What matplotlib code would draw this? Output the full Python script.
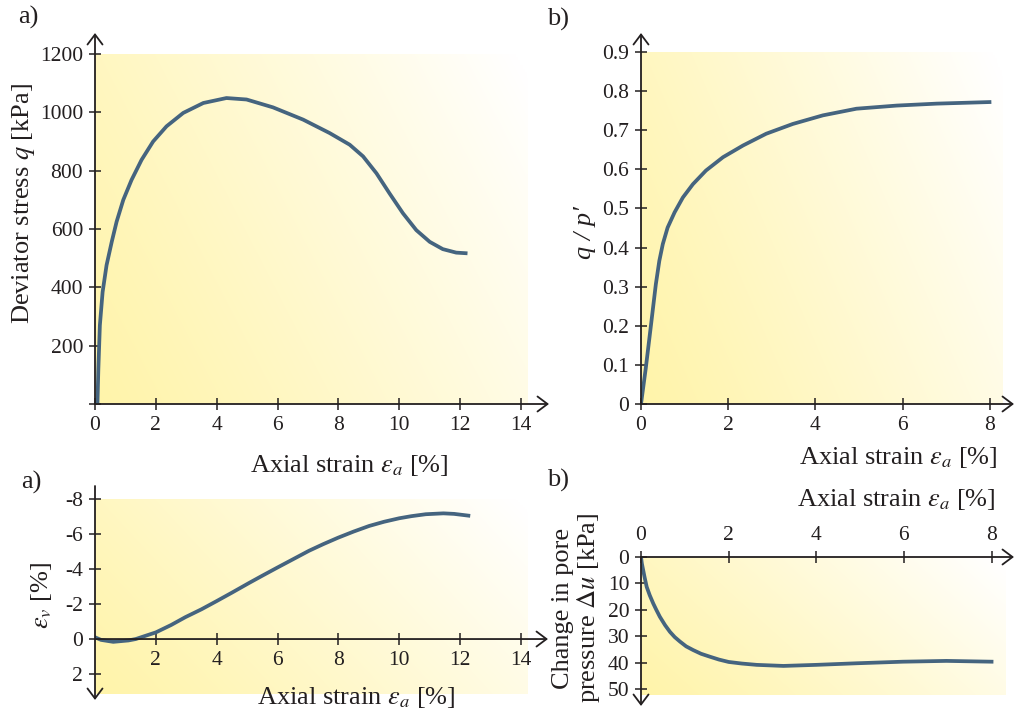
import numpy as np
import matplotlib
matplotlib.use("Agg")
import matplotlib.pyplot as plt

plt.rcParams['font.family'] = ['Liberation Serif', 'DejaVu Serif']
plt.rcParams['mathtext.fontset'] = 'stix'
plt.rcParams['axes.unicode_minus'] = False

# ---- data ----
# a) deviator stress vs axial strain
ea_q = [0.08, 0.11, 0.16, 0.25, 0.38, 0.55, 0.71, 0.93, 1.2, 1.53, 1.91, 2.35,
        2.9, 3.56, 4.32, 4.98, 5.85, 6.84, 7.71, 8.37, 8.81, 9.25, 9.68, 10.12,
        10.56, 11.0, 11.43, 11.87, 12.18]
q = [0, 120, 270, 384, 476, 556, 625, 700, 768, 837, 900, 952,
     998, 1032, 1049, 1044, 1017, 975, 929, 889, 849, 791, 722, 654,
     596, 556, 531, 519, 517]

# b) stress ratio vs axial strain
ea_r = [0, 0.11, 0.23, 0.34, 0.42, 0.5, 0.61, 0.77, 0.96, 1.19, 1.49, 1.88,
        2.34, 2.87, 3.48, 4.17, 4.94, 5.86, 6.78, 7.99]
ratio = [0, 0.092, 0.203, 0.306, 0.366, 0.409, 0.451, 0.49, 0.528, 0.562,
         0.597, 0.631, 0.661, 0.691, 0.716, 0.738, 0.755, 0.763, 0.768, 0.772]

# a) volumetric strain vs axial strain
ea_v = [0, 0.2, 0.6, 1.1, 1.34, 1.6, 2.0, 2.5, 2.97, 3.5, 3.99, 4.5, 5.06, 5.5,
        5.99, 6.5, 7.03, 7.5, 7.99, 8.5, 9.01, 9.5, 10.0, 10.4, 10.87, 11.45,
        11.8, 12.27]
ev = [-0.1, 0.05, 0.16, 0.08, 0.0, -0.15, -0.38, -0.8, -1.25, -1.7, -2.16,
      -2.65, -3.2, -3.62, -4.08, -4.55, -5.04, -5.42, -5.79, -6.14, -6.46,
      -6.7, -6.9, -7.02, -7.13, -7.18, -7.15, -7.05]

# b) pore pressure change vs axial strain
ea_u = [0, 0.02, 0.05, 0.08, 0.13, 0.2, 0.28, 0.35, 0.43, 0.55, 0.66, 0.77,
        0.89, 1.03, 1.19, 1.37, 1.57, 1.78, 2.0, 2.3, 2.64, 3.25, 4.0, 4.92,
        5.98, 6.97, 8.0]
du = [0, 2.5, 5, 7.5, 11.3, 14.5, 17.6, 20, 22.6, 25.8, 28.3, 30.3,
      32, 33.8, 35.2, 36.6, 37.7, 38.8, 39.7, 40.3, 40.8, 41.2, 40.8, 40.2,
      39.6, 39.3, 39.6]

q_ticks = [0, 200, 400, 600, 800, 1000, 1200]
q_labels = ['', '200', '400', '600', '800', '1000', '1200']
r_ticks = [0, 0.1, 0.2, 0.3, 0.4, 0.5, 0.6, 0.7, 0.8, 0.9]
r_labels = ['0', '0.1', '0.2', '0.3', '0.4', '0.5', '0.6', '0.7', '0.8', '0.9']
v_ticks = [-8, -6, -4, -2, 0, 2]
u_ticks = [0, 10, 20, 30, 40, 50]
x14_ticks = [0, 2, 4, 6, 8, 10, 12, 14]
x8_ticks = [0, 2, 4, 6, 8]

W, H = 1015, 717
LINE = '#45647f'
INK = '#231f20'
XLAB = r'Axial strain $\varepsilon_a$ [%]'


def box(l, t, r, b):
    # pixel box -> figure fraction rect
    return [l / W, 1 - b / H, (r - l) / W, (b - t) / H]


def fpos(x, y):
    return x / W, 1 - y / H


def shade(ax):
    n = 200
    X, Y = np.meshgrid(np.linspace(0, 1, n), np.linspace(0, 1, n))
    d = np.clip(0.72 * X + 0.3 * Y, 0, 1) ** 1.1
    d = d[..., None]
    yellow = np.array([255, 244, 170]) / 255
    img = yellow * (1 - d) + np.ones(3) * d
    ax.imshow(img, extent=[0, 1, 0, 1], transform=ax.transAxes, origin='lower',
              aspect='auto', zorder=0, interpolation='bilinear')


def arrow(ax, start, end, coords='axes fraction'):
    ax.annotate('', xy=end, xytext=start, xycoords=coords, textcoords=coords,
                annotation_clip=False,
                arrowprops=dict(arrowstyle='->, head_length=0.6, head_width=0.45',
                                mutation_scale=12, lw=1.3, color=INK,
                                shrinkA=0, shrinkB=0))


def style(ax):
    for s in ax.spines.values():
        s.set_visible(False)
    ax.tick_params(direction='inout', length=9, width=1.1, colors=INK,
                   labelsize=15.5, pad=4)


fig = plt.figure(figsize=(W / 100, H / 100), dpi=100)

# ---- a) top ----
ax1 = fig.add_axes(box(95, 54, 528, 404))
shade(ax1)
ax1.plot(ea_q, q, color=LINE, lw=2.7, zorder=3, solid_joinstyle='round')
ax1.set_xlim(0, 14.23)
ax1.set_ylim(0, 1200)
style(ax1)
ax1.set_xticks(x14_ticks)
ax1.set_yticks(q_ticks)
ax1.set_yticklabels(q_labels)
arrow(ax1, (0, 0), ((549 - 95) / 433, 0))
arrow(ax1, (0, 0), (0, (404 - 33) / 350))

# ---- b) top ----
ax2 = fig.add_axes(box(641, 52, 1003, 404))
shade(ax2)
ax2.plot(ea_r, ratio, color=LINE, lw=2.7, zorder=3, solid_joinstyle='round')
ax2.set_xlim(0, 8.3)
ax2.set_ylim(0, 0.9)
style(ax2)
ax2.set_xticks(x8_ticks)
ax2.set_yticks(r_ticks)
ax2.set_yticklabels(r_labels)
arrow(ax2, (0, 0), ((1014 - 641) / 362, 0))
arrow(ax2, (0, 0), (0, (404 - 33) / 352))

# ---- a) bottom ----
ax3 = fig.add_axes(box(95, 499, 528, 694))
shade(ax3)
ax3.plot(ea_v, ev, color=LINE, lw=2.7, zorder=3, solid_joinstyle='round')
ax3.set_xlim(0, 14.23)
ax3.set_ylim(3.14, -8)
style(ax3)
ax3.spines['bottom'].set_position(('data', 0))
ax3.set_xticks(x14_ticks[1:])
ax3.set_yticks(v_ticks)
arrow(ax3, (0, 0), ((548 - 95) / 433, 0), coords=('axes fraction', 'data'))
arrow(ax3, (0, (694 - 486) / 195), (0, (694 - 700) / 195))

# ---- b) bottom ----
ax4 = fig.add_axes(box(641, 557, 1006, 695))
shade(ax4)
ax4.plot(ea_u, du, color=LINE, lw=2.7, zorder=3, solid_joinstyle='round')
ax4.set_xlim(0, 8.33)
ax4.set_ylim(52.2, 0)
style(ax4)
ax4.xaxis.tick_top()
ax4.set_xticks(x8_ticks)
ax4.set_yticks(u_ticks)
arrow(ax4, (0, 1), ((1014 - 641) / 365, 1))
arrow(ax4, (0, 1), (0, (695 - 706) / 138))

# ---- labels ----
fs = 19
fig.text(*fpos(349, 466), XLAB, ha='center', va='center', fontsize=fs, color=INK)
fig.text(*fpos(998, 458), XLAB, ha='right', va='center', fontsize=fs, color=INK)
fig.text(*fpos(356, 697), XLAB, ha='center', va='center', fontsize=fs, color=INK)
fig.text(*fpos(996, 500), XLAB, ha='right', va='center', fontsize=fs, color=INK)

fig.text(*fpos(24, 204), r'Deviator stress $q$ [kPa]', rotation=90,
         ha='center', va='center', fontsize=fs, color=INK)
fig.text(*fpos(585, 233), 'q / p\u2032', rotation=90, style='italic',
         ha='center', va='center', fontsize=fs, color=INK)
fig.text(*fpos(42, 595), r'$\varepsilon_v$ [%]', rotation=90,
         ha='center', va='center', fontsize=fs, color=INK)
fig.text(*fpos(577, 608), 'Change in pore\n' + r'pressure $\Delta u$ [kPa]',
         rotation=90, ha='center', va='center', multialignment='center',
         fontsize=fs, color=INK, linespacing=1.0)

fig.text(*fpos(18, 17), 'a)', ha='left', va='center', fontsize=fs, color=INK)
fig.text(*fpos(547, 19), 'b)', ha='left', va='center', fontsize=fs, color=INK)
fig.text(*fpos(21, 482), 'a)', ha='left', va='center', fontsize=fs, color=INK)
fig.text(*fpos(547, 480), 'b)', ha='left', va='center', fontsize=fs, color=INK)

fig.savefig('out.png', dpi=100)
